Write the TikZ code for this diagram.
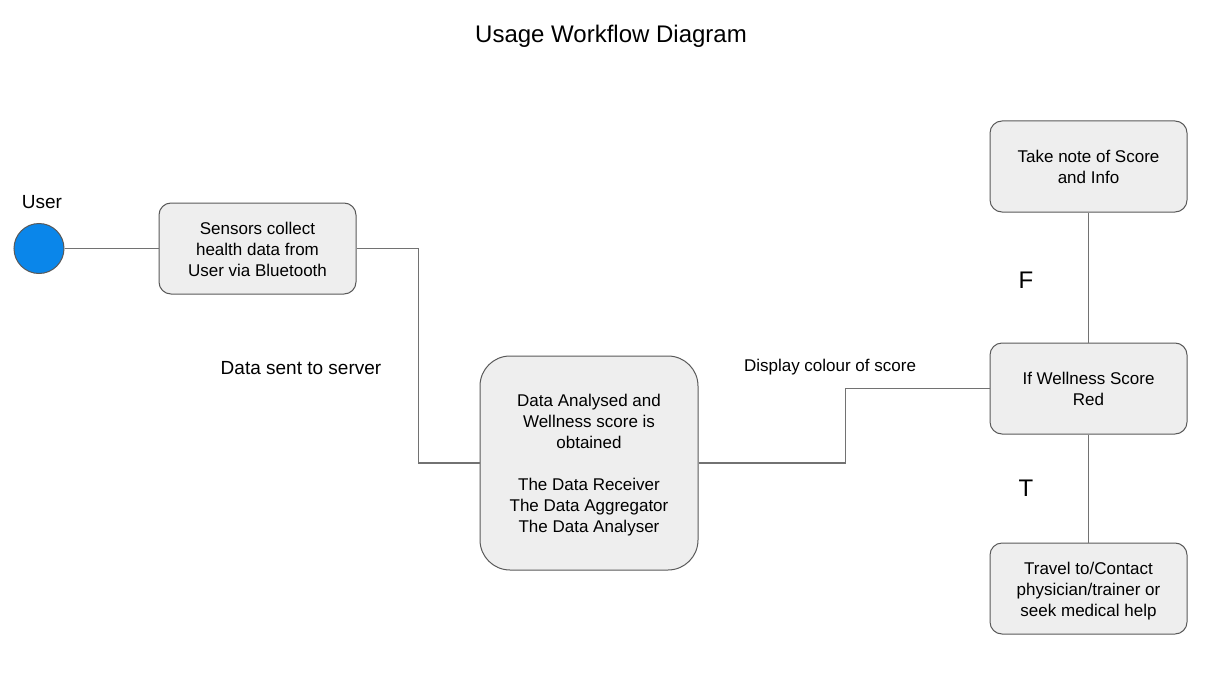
\documentclass[tikz,border=0pt]{standalone}
\usepackage{fontspec}
\setmainfont{Liberation Sans}
\definecolor{boxfill}{HTML}{EEEEEE}
\definecolor{boxline}{HTML}{595959}
\definecolor{userblue}{HTML}{0A86EA}
\newcommand{\lnup}{\rule{0pt}{18.4pt}}
\newcommand{\lndown}{\rule[-4.6pt]{0pt}{4.6pt}}
\begin{document}
\begin{tikzpicture}[x=1pt,y=-1pt,
  stepbox/.style={draw=boxline,fill=boxfill,line width=1pt,rounded corners=12pt,
    minimum width=197pt,minimum height=91pt,inner sep=0pt,align=center,
    font=\fontsize{17}{21}\selectfont},
  link/.style={draw=boxline!85,line width=1.2pt},
  lbl/.style={inner sep=0pt,font=\fontsize{17}{21}\selectfont}]
\useasboundingbox (0,0) rectangle (1228,674);

\node[inner sep=0pt,font=\fontsize{24}{28}\selectfont] (title) at (611,36) {Usage Workflow Diagram};

\node[circle,draw=boxline,fill=userblue,line width=1pt,minimum size=50pt,inner sep=0pt] (user) at (39,248.5) {};
\node[lbl,font=\fontsize{19}{22}\selectfont] (userlbl) at (42,202) {User};

\node[stepbox] (sensors) at (257.5,248.5) {\lnup Sensors collect\\health data from\\User via Bluetooth\lndown};
\node[stepbox,minimum width=218pt,minimum height=214pt,rounded corners=30pt] (analysis) at (589,463)
  {\lnup Data Analysed and\\Wellness score is\\obtained\\[21pt]The Data Receiver\\The Data Aggregator\\The Data Analyser\lndown};
\node[stepbox] (decide) at (1088.5,388.5) {\lnup If Wellness Score\\Red\lndown};
\node[stepbox] (note) at (1088.5,166.5) {\lnup Take note of Score\\and Info\lndown};
\node[stepbox] (travel) at (1088.5,588.5) {\lnup Travel to/Contact\\physician/trainer or\\seek medical help\lndown};

\draw[link] (user) -- (sensors);
\draw[link] (sensors.east) -- ++(62,0) |- (analysis.west);
\draw[link] (analysis.east) -- ++(147,0) |- (decide.west);
\draw[link] (decide) -- (note);
\draw[link] (decide) -- (travel);

\node[lbl,font=\fontsize{19}{22}\selectfont] (sent) at (301,368) {Data sent to server};
\node[lbl] (display) at (830,367) {Display colour of score};
\node[lbl,font=\fontsize{24}{28}\selectfont] (false) at (1026,280) {F};
\node[lbl,font=\fontsize{24}{28}\selectfont] (true) at (1026,488) {T};

\end{tikzpicture}
\end{document}
